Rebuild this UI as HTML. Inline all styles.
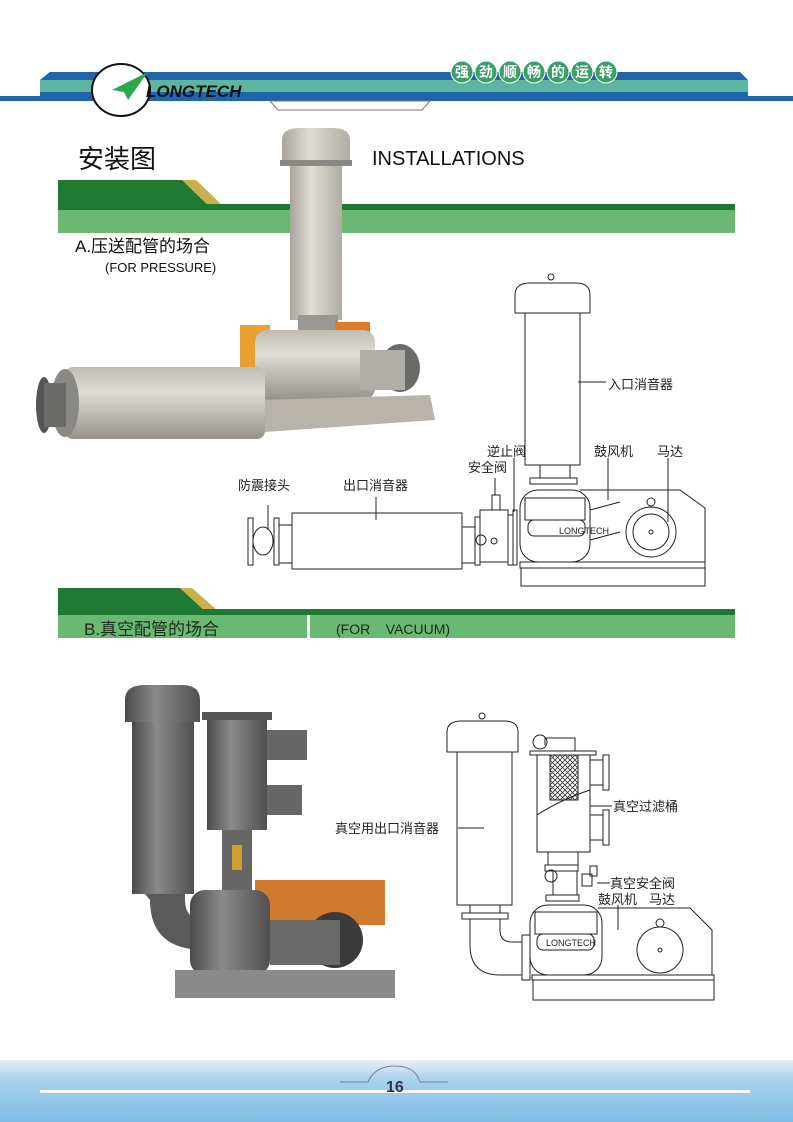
<!DOCTYPE html>
<html><head><meta charset="utf-8"><style>
body{margin:0;background:#fff}
svg{display:block}
text{font-family:"Liberation Sans","Noto Sans CJK SC",sans-serif}
</style></head><body>
<svg width="793" height="1122" viewBox="0 0 793 1122" xmlns="http://www.w3.org/2000/svg">
<defs>
<linearGradient id="ft" x1="0" y1="0" x2="0" y2="1"><stop offset="0" stop-color="#e8f0f4"/><stop offset="0.3" stop-color="#a9d3ec"/><stop offset="1" stop-color="#7fbde3"/></linearGradient>
<linearGradient id="gp" x1="0" y1="0" x2="1" y2="0"><stop offset="0" stop-color="#a8a49c"/><stop offset="0.4" stop-color="#e0ddd6"/><stop offset="1" stop-color="#b0aca4"/></linearGradient>
<linearGradient id="gv" x1="0" y1="0" x2="0" y2="1"><stop offset="0" stop-color="#c0bcb4"/><stop offset="0.35" stop-color="#e0ddd6"/><stop offset="1" stop-color="#96928a"/></linearGradient>
<linearGradient id="dk" x1="0" y1="0" x2="1" y2="0"><stop offset="0" stop-color="#4a4a4a"/><stop offset="0.4" stop-color="#8a8a8a"/><stop offset="1" stop-color="#505050"/></linearGradient>
<pattern id="mesh" width="5" height="5" patternUnits="userSpaceOnUse"><path d="M0 0L5 5M5 0L0 5" stroke="#333" stroke-width="0.8"/></pattern>
</defs>
<!-- header -->
<polygon points="40,80 50,72 740,72 748,80" fill="#1f65ad"/>
<rect x="40" y="80" width="708" height="12" fill="#5db59f"/>
<rect x="40" y="92" width="708" height="4" fill="#1f65ad"/>
<rect x="0" y="96" width="793" height="5" fill="#1f65ad"/>
<polygon points="270,101 430,101 422,110 278,110" fill="#fff" stroke="#777" stroke-width="1"/>
<ellipse cx="121" cy="90" rx="29" ry="26" fill="#fff" stroke="#111" stroke-width="2"/>
<polygon points="112,90 148,72 128,100 124,92" fill="#2aa84a"/>
<text x="146" y="97" font-size="17" font-weight="bold" font-style="italic" fill="#111">LONGTECH</text>
<g font-size="14" font-weight="bold" fill="#fff">
<circle cx="462" cy="72" r="11" fill="#3aa06a" stroke="#fff"/><text x="455" y="77">强</text>
<circle cx="486" cy="72" r="11" fill="#3aa06a" stroke="#fff"/><text x="479" y="77">劲</text>
<circle cx="510" cy="72" r="11" fill="#3aa06a" stroke="#fff"/><text x="503" y="77">顺</text>
<circle cx="534" cy="72" r="11" fill="#3aa06a" stroke="#fff"/><text x="527" y="77">畅</text>
<circle cx="558" cy="72" r="11" fill="#3aa06a" stroke="#fff"/><text x="551" y="77">的</text>
<circle cx="582" cy="72" r="11" fill="#3aa06a" stroke="#fff"/><text x="575" y="77">运</text>
<circle cx="606" cy="72" r="11" fill="#3aa06a" stroke="#fff"/><text x="599" y="77">转</text>
</g>
<text x="78" y="168" font-size="26" fill="#111">安装图</text>
<text x="372" y="165" font-size="20" fill="#111">INSTALLATIONS</text>
<!-- section A bar -->
<polygon points="58,180 182,180 208,205 58,205" fill="#1e7a32"/>
<polygon points="182,180 196,180 222,205 208,205" fill="#c9b04a"/>
<rect x="58" y="204" width="677" height="6" fill="#1e7a32"/>
<rect x="58" y="210" width="677" height="23" fill="#6ab872"/>
<text x="75" y="252" font-size="17" fill="#111">A.压送配管的场合</text>
<text x="105" y="272" font-size="13" fill="#111">(FOR PRESSURE)</text>
<!-- photo A -->
<rect x="290" y="160" width="52" height="160" fill="url(#gp)"/>
<path d="M282,162 L282,140 Q282,128 300,128 L332,128 Q350,128 350,140 L350,162 Z" fill="url(#gp)"/>
<rect x="280" y="160" width="72" height="6" fill="#8a8884"/>
<rect x="298" y="315" width="40" height="20" fill="#9a9894"/>
<rect x="240" y="325" width="30" height="50" fill="#e8a030"/>
<rect x="335" y="322" width="35" height="25" fill="#e07a20"/>
<rect x="255" y="330" width="120" height="70" rx="12" fill="url(#gv)"/>
<ellipse cx="400" cy="368" rx="20" ry="24" fill="#6a6a66"/>
<rect x="360" y="350" width="45" height="40" fill="#b0aea8"/>
<polygon points="260,400 430,395 435,420 265,432" fill="#b8b4ac"/>
<rect x="65" y="367" width="200" height="72" rx="8" fill="url(#gv)"/>
<ellipse cx="65" cy="403" rx="14" ry="34" fill="#8a8884"/>
<ellipse cx="44" cy="405" rx="8" ry="28" fill="#555"/>
<rect x="44" y="383" width="22" height="44" fill="#6a6a66"/>
<!-- drawing A -->
<g fill="none" stroke="#222" stroke-width="1">
<circle cx="551" cy="277" r="3"/>
<path d="M515,313 L515,295 Q515,283 530,283 L576,283 Q590,283 590,295 L590,313 Z"/>
<rect x="525" y="313" width="55" height="152"/>
<rect x="540" y="465" width="30" height="13"/>
<rect x="530" y="478" width="47" height="6"/>
<rect x="520" y="490" width="70" height="72" rx="18"/>
<rect x="525" y="498" width="60" height="22"/>
<rect x="528" y="520" width="57" height="16" rx="6"/>
<path d="M580,490 L680,490 L705,508 L705,562 M590,510 L620,502 M590,540 L620,532"/>
<rect x="520" y="562" width="185" height="6"/>
<rect x="521" y="568" width="184" height="18"/>
<circle cx="651" cy="532" r="25"/><circle cx="651" cy="532" r="18"/><circle cx="651" cy="532" r="2"/>
<circle cx="651" cy="502" r="4"/>
<rect x="292" y="513" width="170" height="56"/>
<rect x="248" y="518" width="5" height="47"/><rect x="274" y="518" width="5" height="47"/>
<ellipse cx="263" cy="541" rx="10" ry="14"/>
<rect x="279" y="525" width="13" height="38"/>
<rect x="462" y="527" width="13" height="36"/>
<rect x="475" y="517" width="5" height="48"/>
<rect x="480" y="510" width="28" height="52"/>
<rect x="508" y="515" width="5" height="50"/>
<rect x="513" y="510" width="4" height="55"/>
<rect x="492" y="495" width="8" height="15"/>
<circle cx="481" cy="540" r="5"/><circle cx="494" cy="541" r="3"/>
<path d="M268,505 L268,530 M376,497 L376,520 M578,382 L606,382 M495,478 L495,495 M514,458 L514,512 M608,458 L608,500 M668,458 L668,522"/>
</g>
<text x="559" y="534" font-size="9" fill="#222">LONGTECH</text>
<g font-size="13" fill="#222">
<text x="608" y="389">入口消音器</text>
<text x="238" y="490">防震接头</text>
<text x="343" y="490">出口消音器</text>
<text x="468" y="472">安全阀</text>
<text x="487" y="456">逆止阀</text>
<text x="594" y="456">鼓风机</text>
<text x="657" y="456">马达</text>
</g>
<!-- section B bar -->
<polygon points="58,588 180,588 205,611 58,611" fill="#1e7a32"/>
<polygon points="180,588 192,588 218,611 205,611" fill="#c9b04a"/>
<rect x="58" y="609" width="677" height="6" fill="#1e7a32"/>
<rect x="58" y="615" width="677" height="23" fill="#6ab872"/>
<rect x="307" y="615" width="3" height="23" fill="#fff"/>
<text x="84" y="635" font-size="17" fill="#1a2a1a">B.真空配管的场合</text>
<text x="336" y="634" font-size="14" fill="#1a2a1a" xml:space="preserve">(FOR    VACUUM)</text>
<!-- photo B -->
<path d="M125,700 Q125,685 145,685 L182,685 Q200,685 200,700 L200,722 L125,722 Z" fill="url(#dk)"/>
<rect x="132" y="722" width="62" height="172" fill="url(#dk)"/>
<path d="M145,894 L185,894 L185,900 Q185,920 205,920 L205,950 Q150,950 150,900 Z" fill="#5a5a5a"/>
<rect x="207" y="718" width="60" height="112" fill="url(#dk)"/>
<rect x="202" y="712" width="70" height="8" fill="#555"/>
<rect x="267" y="730" width="40" height="30" fill="#666"/><rect x="267" y="785" width="35" height="30" fill="#666"/>
<rect x="222" y="830" width="30" height="60" fill="#666"/>
<rect x="232" y="845" width="10" height="25" fill="#d0a030"/>
<rect x="255" y="880" width="130" height="45" fill="#d07a30"/>
<rect x="190" y="890" width="80" height="85" rx="15" fill="url(#dk)"/>
<circle cx="335" cy="940" r="28" fill="#3a3a3a"/>
<rect x="270" y="920" width="70" height="45" fill="#6a6a6a"/>
<rect x="175" y="970" width="220" height="28" fill="#8a8a8a"/>
<!-- drawing B -->
<g fill="none" stroke="#222" stroke-width="1">
<circle cx="482" cy="716" r="3"/>
<path d="M447,752 L447,732 Q447,721 462,721 L504,721 Q518,721 518,732 L518,752 Z"/>
<rect x="457" y="752" width="55" height="153"/>
<rect x="470" y="905" width="30" height="8"/>
<rect x="462" y="913" width="46" height="6"/>
<path d="M470,919 L470,945 Q470,975 500,975 L522,975 M500,919 L500,930 Q500,942 512,942 L522,942"/>
<rect x="522" y="935" width="8" height="45"/>
<rect x="530" y="751" width="66" height="4"/>
<rect x="537" y="755" width="53" height="97"/>
<rect x="550" y="755" width="28" height="45" fill="url(#mesh)"/>
<path d="M537,815 Q560,800 590,790"/>
<rect x="590" y="760" width="13" height="25"/><rect x="603" y="755" width="6" height="35"/>
<rect x="590" y="815" width="13" height="25"/><rect x="603" y="810" width="6" height="35"/>
<circle cx="540" cy="742" r="7"/>
<path d="M545,745 L545,738 L575,738 L575,751"/>
<rect x="548" y="852" width="30" height="13"/>
<rect x="545" y="865" width="33" height="6"/>
<rect x="553" y="871" width="24" height="24"/>
<rect x="546" y="895" width="33" height="6"/>
<circle cx="551" cy="876" r="6"/>
<rect x="582" y="874" width="10" height="12"/><rect x="590" y="866" width="7" height="10"/>
<rect x="530" y="905" width="72" height="70" rx="18"/>
<rect x="535" y="912" width="62" height="22"/>
<rect x="537" y="934" width="57" height="16" rx="6"/>
<path d="M598,908 L690,908 L712,930 L712,975"/>
<rect x="532" y="975" width="182" height="5"/>
<rect x="533" y="980" width="181" height="20"/>
<circle cx="660" cy="950" r="23"/><circle cx="660" cy="950" r="2"/>
<circle cx="660" cy="923" r="4"/>
<path d="M458,828 L484,828 M590,806 L612,806 M597,883 L610,883 M618,905 L618,930"/>
</g>
<text x="546" y="946" font-size="9" fill="#222">LONGTECH</text>
<g font-size="13" fill="#222">
<text x="335" y="833">真空用出口消音器</text>
<text x="613" y="811">真空过滤桶</text>
<text x="610" y="888">真空安全阀</text>
<text x="598" y="904">鼓风机</text>
<text x="649" y="904">马达</text>
</g>
<!-- footer -->
<rect x="0" y="1060" width="793" height="62" fill="url(#ft)"/>
<rect x="40" y="1090" width="710" height="3" fill="#f4f8fc"/>
<path d="M340,1082 L368,1082 Q375,1066 395,1066 Q415,1066 420,1082 L448,1082" fill="none" stroke="#667" stroke-width="0.8"/>
<text x="386" y="1092" font-size="16" font-weight="bold" fill="#334">16</text>
</svg>
</body></html>
